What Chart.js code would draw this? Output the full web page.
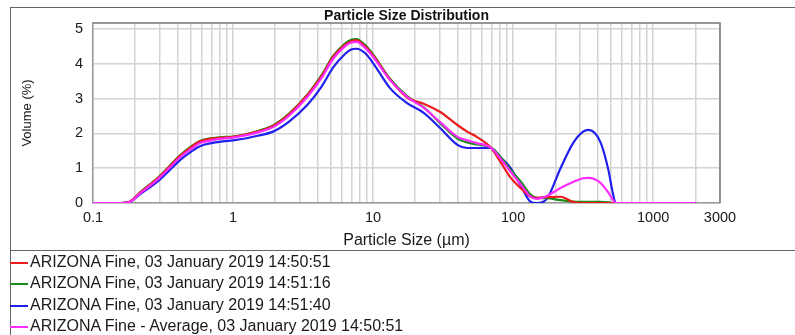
<!DOCTYPE html>
<html>
<head>
<meta charset="utf-8">
<script src="https://cdn.jsdelivr.net/npm/chart.js@4.4.0/dist/chart.umd.min.js"></script>
<style>
  body { margin: 0; background: #fff; font-family: "Liberation Sans", Arial, sans-serif; }
  #frame { position: absolute; left: 10px; top: 7px; width: 800px; height: 340px;
           border-left: 1.5px solid #666; border-top: 1.5px solid #666; }
  #wrap { position: absolute; left: 0; top: 0; width: 795px; height: 251px; }
  #legend { position: absolute; left: 10px; top: 250px; width: 800px;
            border-top: 1.5px solid #666; color: #1a1a1a; font-size: 16px; }
  .row { height: 21.4px; line-height: 21.4px; white-space: nowrap; }
  .swatch { display: inline-block; width: 18px; height: 2px; vertical-align: middle; margin-right: 2px; }
</style>
</head>
<body>
<div id="frame"></div>
<div id="wrap"><canvas id="psd"></canvas></div>
<div id="legend"></div>
<script>
// Données (taille en µm, volume en %)
const sizes = [0.1, 0.15, 0.18, 0.22, 0.29, 0.35, 0.42, 0.5, 0.58, 0.7, 0.85, 1.0, 1.25, 1.5, 1.93, 2.5, 3.4, 4.3, 5.2, 6.3, 6.9, 7.6, 8.8, 10, 13.2, 17.5, 23, 30, 40, 47, 55, 69, 82, 95, 115, 133, 148, 174, 218, 268, 316, 345, 420, 480, 510, 540, 1000, 2000];
const run1 = [0, 0, 0.03, 0.32, 0.71, 1.04, 1.36, 1.6, 1.77, 1.85, 1.88, 1.9, 1.97, 2.05, 2.21, 2.54, 3.1, 3.65, 4.2, 4.54, 4.64, 4.67, 4.49, 4.24, 3.55, 3.03, 2.85, 2.62, 2.24, 2.05, 1.9, 1.6, 1.15, 0.75, 0.4, 0.18, 0.15, 0.17, 0.18, 0.03, 0, 0, 0, 0, 0, 0, 0, 0];
const run2 = [0, 0, 0.03, 0.33, 0.72, 1.05, 1.38, 1.62, 1.78, 1.86, 1.89, 1.91, 1.98, 2.07, 2.23, 2.56, 3.12, 3.68, 4.23, 4.58, 4.68, 4.71, 4.53, 4.27, 3.57, 3.07, 2.75, 2.3, 1.85, 1.74, 1.68, 1.6, 1.3, 0.97, 0.58, 0.24, 0.15, 0.14, 0.08, 0.04, 0.03, 0.03, 0.03, 0.02, 0, 0, 0, 0];
const run3 = [0, 0, 0.02, 0.27, 0.62, 0.93, 1.24, 1.47, 1.63, 1.72, 1.77, 1.8, 1.86, 1.93, 2.05, 2.33, 2.82, 3.35, 3.9, 4.28, 4.4, 4.43, 4.3, 4.02, 3.3, 2.87, 2.59, 2.16, 1.67, 1.58, 1.58, 1.58, 1.3, 1.03, 0.45, 0.04, 0, 0.12, 1.0, 1.72, 2.05, 2.1, 1.75, 0.93, 0.37, 0, 0, 0];
const average = [0, 0, 0.02, 0.3, 0.68, 1.0, 1.32, 1.55, 1.72, 1.8, 1.85, 1.88, 1.95, 2.03, 2.18, 2.5, 3.05, 3.6, 4.15, 4.5, 4.6, 4.63, 4.45, 4.2, 3.53, 3.05, 2.73, 2.33, 1.9, 1.8, 1.72, 1.6, 1.25, 0.92, 0.5, 0.18, 0.12, 0.2, 0.43, 0.6, 0.71, 0.72, 0.58, 0.29, 0.12, 0, 0, 0];

const seriesLabels = [
    'ARIZONA Fine, 03 January 2019 14:50:51',
    'ARIZONA Fine, 03 January 2019 14:51:16',
    'ARIZONA Fine, 03 January 2019 14:51:40',
    'ARIZONA Fine - Average, 03 January 2019 14:50:51'
];
const xTickLabels = [0.1, 1, 10, 100, 1000, 3000];
const yTickValues = [0, 1, 2, 3, 4, 5];

const colors = ['#ee1c1c', '#1b8a1b', '#2020ee', '#ff2cff'];
const drawOrder = [1, 2, 3, 0]; // la moyenne passe devant
const FONT = '"Liberation Sans", Arial, sans-serif';

// Grille log : 1..9 x chaque décade, jusqu'à 3000
const xGrid = [];
[0.1, 1, 10, 100, 1000].forEach(d => {
    for (let k = 1; k <= 9; k++) if (k * d <= 3000.001) xGrid.push(k * d);
});

function toPoints(vals) {
    return sizes.map((s, i) => ({ x: s, y: vals[i] }));
}

// Cadre haut / droite de la zone de tracé
const plotFrame = {
    id: 'plotFrame',
    afterDraw(chart) {
        const { ctx, chartArea: a } = chart;
        ctx.save();
        ctx.strokeStyle = '#777';
        ctx.lineWidth = 1.5;
        ctx.beginPath();
        ctx.moveTo(a.left, a.top);
        ctx.lineTo(a.right, a.top);
        ctx.lineTo(a.right, a.bottom);
        ctx.stroke();
        ctx.restore();
    }
};

const datasets = [run1, run2, run3, average].map((vals, i) => ({
    label: seriesLabels[i],
    data: toPoints(vals),
    borderColor: colors[i],
    borderWidth: 2.2,
    pointRadius: 0,
    fill: false,
    cubicInterpolationMode: 'monotone',
    order: drawOrder[i]
}));

const chart = new Chart(document.getElementById('psd'), {
    type: 'line',
    data: { datasets },
    options: {
        responsive: true,
        maintainAspectRatio: false,
        animation: false,
        layout: { padding: { left: 0, right: 75, top: 0, bottom: 0 } },
        plugins: {
            legend: { display: false },
            tooltip: { enabled: false },
            title: {
                display: true,
                text: 'Particle Size Distribution',
                fullSize: false,
                color: '#111',
                font: { family: FONT, size: 14, weight: 'bold', lineHeight: 1 },
                padding: { top: 9, bottom: 0 }
            }
        },
        scales: {
            x: {
                type: 'logarithmic',
                min: 0.1,
                max: 3000,
                afterBuildTicks: s => { s.ticks = xGrid.map(v => ({ value: v })); },
                afterFit: s => { s.height = 48; },
                grid: { color: '#d4d4d4', lineWidth: 1.5, drawTicks: false },
                border: { color: '#999', width: 1.5 },
                ticks: {
                    autoSkip: false,
                    maxRotation: 0,
                    padding: 6,
                    color: '#1a1a1a',
                    font: { family: FONT, size: 14.5 },
                    callback: v => {
                        const t = xTickLabels.find(t => Math.abs(t - v) / t < 1e-6);
                        return t === undefined ? '' : String(t);
                    }
                },
                title: {
                    display: true,
                    text: 'Particle Size (µm)',
                    color: '#1a1a1a',
                    font: { family: FONT, size: 16 },
                    padding: { top: 0, bottom: 1 }
                }
            },
            y: {
                min: 0,
                max: 5.17,
                afterBuildTicks: s => { s.ticks = yTickValues.map(v => ({ value: v })); },
                afterFit: s => { s.width = 93; },
                grid: { color: '#d4d4d4', lineWidth: 1.5, drawTicks: false },
                border: { color: '#999', width: 1.5 },
                ticks: {
                    padding: 10,
                    color: '#1a1a1a',
                    font: { family: FONT, size: 14.5 }
                },
                title: {
                    display: true,
                    text: 'Volume (%)',
                    color: '#1a1a1a',
                    font: { family: FONT, size: 13 },
                    padding: { top: 20, bottom: 0 }
                }
            }
        }
    },
    plugins: [plotFrame]
});

// Légende HTML, une ligne par série
const legend = document.getElementById('legend');
chart.data.datasets.forEach(ds => {
    const row = document.createElement('div');
    row.className = 'row';
    row.innerHTML = `<span class="swatch" style="background:${ds.borderColor}"></span>${ds.label}`;
    legend.appendChild(row);
});
</script>
</body>
</html>
